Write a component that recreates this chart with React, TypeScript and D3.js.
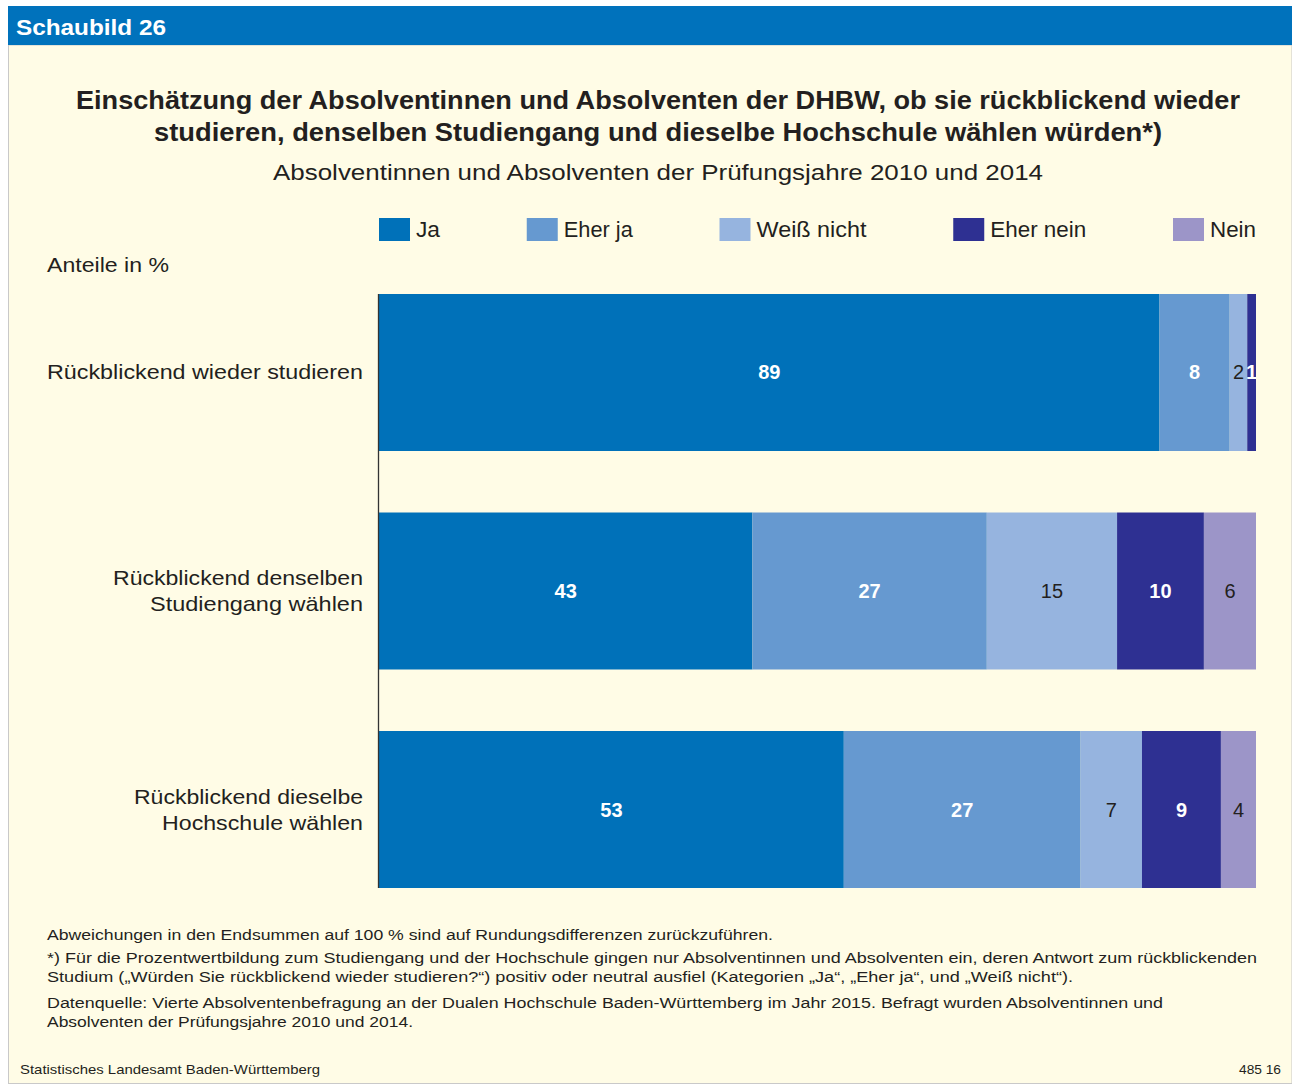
import React, { useEffect, useRef } from "react";
import * as d3 from "d3";

const categories = [
  ["Rückblickend wieder studieren"],
  ["Rückblickend denselben", "Studiengang wählen"],
  ["Rückblickend dieselbe", "Hochschule wählen"],
];
const seriesNames = ["Ja", "Eher ja", "Weiß nicht", "Eher nein", "Nein"];
const seriesColors = ["#0071b9", "#6699d0", "#96b4df", "#2e3092", "#9c95c8"];
const seriesLabelDark = [false, false, true, false, true];
const valuesJa = [89, 43, 53];
const valuesEherJa = [8, 27, 27];
const valuesWeissNicht = [2, 15, 7];
const valuesEherNein = [1, 10, 9];
const valuesNein = [0, 6, 4];

const titleLines = [
  "Einschätzung der Absolventinnen und Absolventen der DHBW, ob sie rückblickend wieder",
  "studieren, denselben Studiengang und dieselbe Hochschule wählen würden*)",
];
const subtitle = "Absolventinnen und Absolventen der Prüfungsjahre 2010 und 2014";
const footnotes = [
  "Abweichungen in den Endsummen auf 100 % sind auf Rundungsdifferenzen zurückzuführen.",
  "*) Für die Prozentwertbildung zum Studiengang und der Hochschule gingen nur Absolventinnen und Absolventen ein, deren Antwort zum rückblickenden",
  "Studium („Würden Sie rückblickend wieder studieren?“) positiv oder neutral ausfiel (Kategorien „Ja“, „Eher ja“, und „Weiß nicht“).",
  "Datenquelle: Vierte Absolventenbefragung an der Dualen Hochschule Baden-Württemberg im Jahr 2015. Befragt wurden Absolventinnen und",
  "Absolventen der Prüfungsjahre 2010 und 2014.",
];

const W = 1292;
const H = 1086;
const FONT = "'Liberation Sans', Arial, sans-serif";
const TEXT = "#231f20";

export default function App() {
  const ref = useRef<SVGSVGElement | null>(null);

  useEffect(() => {
    const svg = d3.select(ref.current);
    svg.selectAll("*").remove();

    // panel + header
    svg.append("rect").attr("x", 8.5).attr("y", 45).attr("width", W - 8.5).attr("height", 1038.5)
      .attr("fill", "#fffce6").attr("stroke", "#c9c9c9").attr("stroke-width", 1);
    svg.append("rect").attr("x", 8).attr("y", 6).attr("width", W - 8).attr("height", 39).attr("fill", "#0072bc");
    svg.append("text").attr("x", 16).attr("y", 35).text("Schaubild 26")
      .attr("font-family", FONT).attr("font-weight", "bold").attr("font-size", 22).attr("fill", "#fff")
      .attr("textLength", 150).attr("lengthAdjust", "spacingAndGlyphs");

    // titles
    const titleWidths = [1164, 1008];
    titleLines.forEach((t, i) => {
      svg.append("text").attr("x", 658).attr("y", 109 + i * 32).attr("text-anchor", "middle").text(t)
        .attr("font-family", FONT).attr("font-weight", "bold").attr("font-size", 26).attr("fill", TEXT)
        .attr("textLength", titleWidths[i]).attr("lengthAdjust", "spacingAndGlyphs");
    });
    svg.append("text").attr("x", 658).attr("y", 180).attr("text-anchor", "middle").text(subtitle)
      .attr("font-family", FONT).attr("font-size", 22).attr("fill", TEXT)
      .attr("textLength", 770).attr("lengthAdjust", "spacingAndGlyphs");

    svg.append("text").attr("x", 47).attr("y", 272).text("Anteile in %")
      .attr("font-family", FONT).attr("font-size", 21).attr("fill", TEXT)
      .attr("textLength", 122).attr("lengthAdjust", "spacingAndGlyphs");

    // data
    const seriesValues = [valuesJa, valuesEherJa, valuesWeissNicht, valuesEherNein, valuesNein];
    const rows = categories.map((c, ci) => {
      const obj: any = { key: ci };
      seriesNames.forEach((s, si) => (obj[s] = seriesValues[si][ci]));
      return obj;
    });
    const stack = d3.stack().keys(seriesNames);
    const stacked = stack(rows);

    const left = 379, right = 1256;
    const y = d3.scaleBand<number>().domain(categories.map((_, i) => i)).range([294, 888])
      .paddingInner(0.2815).paddingOuter(0);

    const totals = rows.map((r) => d3.sum(seriesNames, (s) => r[s]));
    const xFor = (ri: number) => d3.scaleLinear().domain([0, totals[ri]]).range([left, right]);

    stacked.forEach((layer, si) => {
      layer.forEach((seg, ri) => {
        const x = xFor(ri);
        const v = seg[1] - seg[0];
        if (v <= 0) return;
        svg.append("rect").attr("x", x(seg[0])).attr("y", y(ri)!).attr("width", x(seg[1]) - x(seg[0]))
          .attr("height", y.bandwidth()).attr("fill", seriesColors[si]);
      });
    });
    stacked.forEach((layer, si) => {
      layer.forEach((seg, ri) => {
        const x = xFor(ri);
        const v = seg[1] - seg[0];
        if (v <= 0) return;
        const dark = seriesLabelDark[si];
        svg.append("text").attr("x", (x(seg[0]) + x(seg[1])) / 2).attr("y", y(ri)! + y.bandwidth() / 2 + 7)
          .attr("text-anchor", "middle").text(String(v))
          .attr("font-family", FONT).attr("font-size", 20)
          .attr("font-weight", dark ? "normal" : "bold")
          .attr("fill", dark ? TEXT : "#ffffff");
      });
    });

    // axis line
    svg.append("line").attr("x1", 378.5).attr("x2", 378.5).attr("y1", 294).attr("y2", 888)
      .attr("stroke", "#333").attr("stroke-width", 1.3);

    // category labels
    const labelWidths = [[316], [250, 213], [229, 201]];
    categories.forEach((lines, ci) => {
      const cy = y(ci)! + y.bandwidth() / 2;
      const n = lines.length;
      lines.forEach((l, li) => {
        const by = cy + 7 + (li - (n - 1) / 2) * 26;
        svg.append("text").attr("x", 363).attr("y", by).attr("text-anchor", "end").text(l)
          .attr("font-family", FONT).attr("font-size", 21).attr("fill", TEXT)
          .attr("textLength", labelWidths[ci][li]).attr("lengthAdjust", "spacingAndGlyphs");
      });
    });

    // legend (justified between left and right)
    const sw = 31, sh = 23, gapText = 6;
    const legendWidths = [24, 69, 110, 96, 46];
    const used = d3.sum(legendWidths) + seriesNames.length * (sw + gapText);
    const gap = (right - left - used) / (seriesNames.length - 1);
    let cx = left;
    seriesNames.forEach((s, i) => {
      svg.append("rect").attr("x", cx).attr("y", 218).attr("width", sw).attr("height", sh).attr("fill", seriesColors[i]);
      svg.append("text").attr("x", cx + sw + gapText).attr("y", 237).text(s)
        .attr("font-family", FONT).attr("font-size", 21.5).attr("fill", TEXT)
        .attr("textLength", legendWidths[i]).attr("lengthAdjust", "spacingAndGlyphs");
      cx += sw + gapText + legendWidths[i] + gap;
    });

    // footnotes
    const fnY = [940, 963, 982, 1008, 1027];
    const fnW = [726, 1210, 1026, 1116, 366];
    footnotes.forEach((f, i) => {
      svg.append("text").attr("x", 47).attr("y", fnY[i]).text(f)
        .attr("font-family", FONT).attr("font-size", 15.5).attr("fill", TEXT)
        .attr("textLength", fnW[i]).attr("lengthAdjust", "spacingAndGlyphs");
    });

    svg.append("text").attr("x", 20).attr("y", 1074).text("Statistisches Landesamt Baden-Württemberg")
      .attr("font-family", FONT).attr("font-size", 13).attr("fill", TEXT)
      .attr("textLength", 300).attr("lengthAdjust", "spacingAndGlyphs");
    svg.append("text").attr("x", 1281).attr("y", 1074).attr("text-anchor", "end").text("485 16")
      .attr("font-family", FONT).attr("font-size", 13).attr("fill", TEXT)
      .attr("textLength", 42).attr("lengthAdjust", "spacingAndGlyphs");
  }, []);

  return (
    <svg ref={ref} width={W} height={H} style={{ position: "absolute", left: 0, top: 0, display: "block" }} />
  );
}
